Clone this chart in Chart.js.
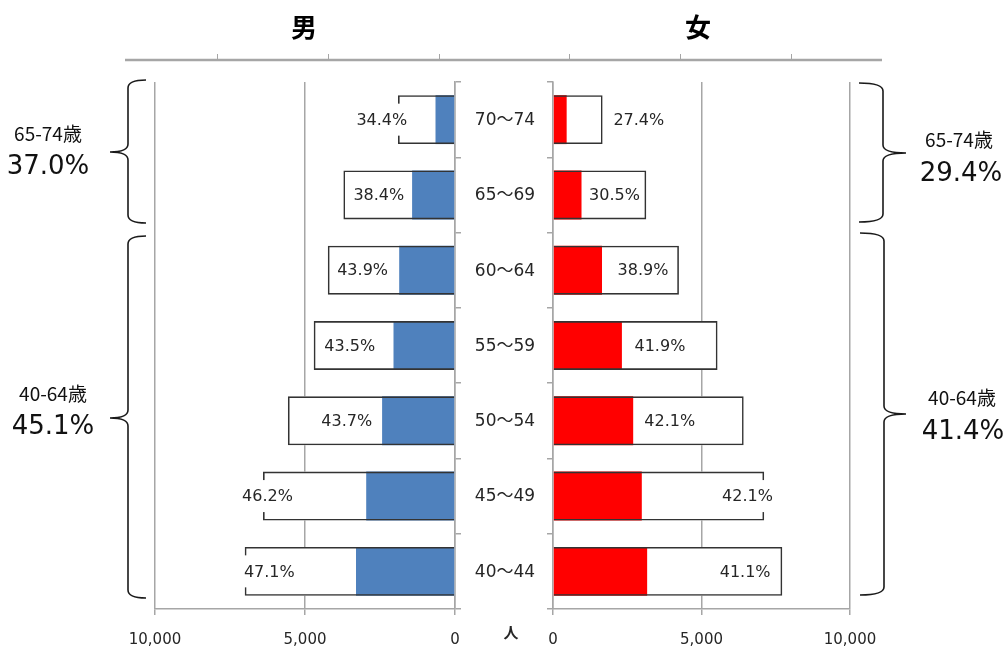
<!DOCTYPE html>
<html>
<head>
<meta charset="utf-8">
<script src="https://cdn.jsdelivr.net/npm/chart.js@4.4.1/dist/chart.umd.min.js"></script>
<style>
  html, body { margin:0; padding:0; background:#ffffff; overflow:hidden; }
  #wrap { position:relative; width:1008px; height:659px; overflow:hidden; }
  canvas { position:absolute; left:0; top:0; }
</style>
</head>
<body>
<div id="wrap">
  <canvas id="male" width="1008" height="659"></canvas>
  <canvas id="female" width="1008" height="659"></canvas>
</div>
<script>
// ---- data ----
const ageGroups = ['70～74', '65～69', '60～64', '55～59', '50～54', '45～49', '40～44'];
const maleTotal   = [1900, 3720, 4240, 4710, 5570, 6400, 7010];
const maleCount   = [650, 1430, 1860, 2050, 2430, 2960, 3300];
const malePct     = ['34.4%', '38.4%', '43.9%', '43.5%', '43.7%', '46.2%', '47.1%'];
const femaleTotal = [1670, 3140, 4240, 5540, 6420, 7110, 7720];
const femaleCount = [460, 960, 1650, 2320, 2700, 2990, 3170];
const femalePct   = ['27.4%', '30.5%', '38.9%', '41.9%', '42.1%', '42.1%', '41.1%'];
const axisTicks   = [0, 5000, 10000];
const groupNames  = ['65-74歳', '40-64歳'];
const maleGroupPct   = ['37.0%', '45.1%'];
const femaleGroupPct = ['29.4%', '41.4%'];
const sexTitles   = ['男', '女'];
const unitLabel   = '人';

// label anchor positions (in axis units)
const maleLabelAt   = [2440, 2540, 3080, 3510, 3610, 6250, 6190];
const femaleLabelAt = [2890, 2070, 3030, 3600, 3930, 6550, 6470];

Chart.defaults.devicePixelRatio = 1;
const NUM_FONT = "'DejaVu Sans', 'Noto Sans CJK JP', sans-serif";
const JP_FONT = "'Noto Sans CJK JP', 'DejaVu Sans', sans-serif";
const GRID = '#a6a6a6';
const INK = '#262626';

function fmt(v){ return v.toLocaleString('en-US'); }

function pctLabelPlugin(labelAt, texts){
  return {
    id: 'pctLabels',
    afterDatasetsDraw(chart){
      const ctx = chart.ctx, xs = chart.scales.x, ys = chart.scales.y;
      ctx.save();
      ctx.font = '16px ' + NUM_FONT;
      ctx.textAlign = 'center';
      ctx.textBaseline = 'middle';
      texts.forEach((t, i) => {
        const x = xs.getPixelForValue(labelAt[i]);
        const y = ys.getPixelForValue(i);
        const w = ctx.measureText(t).width + 6;
        ctx.fillStyle = '#ffffff';
        ctx.fillRect(x - w/2, y - 16, w, 32);
        ctx.fillStyle = INK;
        ctx.fillText(t, x, y + 1);
      });
      ctx.restore();
    }
  };
}

function makeDatasets(total, count, color){
  const common = { grouped:false, barPercentage:0.65, categoryPercentage:1 };
  return [
    Object.assign({ label:'total-bg', data: total, backgroundColor:'#ffffff', borderWidth:0, order:3 }, common),
    Object.assign({ label:'count', data: count, backgroundColor: color, borderWidth:0, order:2 }, common),
    Object.assign({ label:'total', data: total, backgroundColor:'rgba(0,0,0,0)', borderColor:'#333333', borderWidth:1.6, borderSkipped:'start', order:1 }, common)
  ];
}

function makeOptions(isMale){
  return {
    responsive:false,
    animation:false,
    indexAxis:'y',
    layout:{ padding: isMale
      ? { left:155, right:1008-455-6, top:82, bottom:-6 }
      : { left:553-6, right:1008-850, top:82, bottom:-6 } },
    plugins:{ legend:{display:false}, tooltip:{enabled:false} },
    scales:{
      x:{
        type:'linear', min:0, max:10000, reverse:isMale,
        afterBuildTicks(scale){ scale.ticks = axisTicks.map(v => ({value:v})); },
        ticks:{ callback:(v)=>fmt(v), font:{family:NUM_FONT, size:15}, color:INK, padding:16, maxRotation:0 },
        grid:{ color:GRID, lineWidth:1.5, tickLength:6 },
        border:{ color:GRID, width:1.5 }
      },
      y:{
        type:'category', labels: ageGroups, position: isMale ? 'right' : 'left',
        ticks:{ display:false },
        grid:{ drawOnChartArea:false, offset:true, tickLength:6, color:GRID, lineWidth:1.5 },
        border:{ color:GRID, width:1.5 }
      }
    }
  };
}

function brace(ctx, xv, xh, xt, y0, ym, y1){
  const r = 8;
  ctx.beginPath();
  ctx.moveTo(xh, y0);
  ctx.quadraticCurveTo(xv, y0, xv, y0 + r);
  ctx.lineTo(xv, ym - r);
  ctx.quadraticCurveTo(xv, ym, xt, ym);
  ctx.quadraticCurveTo(xv, ym, xv, ym + r);
  ctx.lineTo(xv, y1 - r);
  ctx.quadraticCurveTo(xv, y1, xh, y1);
  ctx.stroke();
}

const overlayPlugin = {
  id:'overlay',
  afterDraw(chart){
    const ctx = chart.ctx, ys = chart.scales.y;
    ctx.save();
    // top frame line
    ctx.strokeStyle = GRID; ctx.lineWidth = 2.5;
    ctx.beginPath(); ctx.moveTo(125, 60); ctx.lineTo(882, 60); ctx.stroke();
    ctx.lineWidth = 1;
    [217, 328, 439, 569, 680, 791].forEach(x => {
      ctx.beginPath(); ctx.moveTo(x + 0.5, 54); ctx.lineTo(x + 0.5, 60); ctx.stroke();
    });
    // titles
    ctx.fillStyle = '#000';
    ctx.textAlign = 'center'; ctx.textBaseline = 'middle';
    ctx.font = 'bold 26px ' + JP_FONT;
    ctx.fillText(sexTitles[0], 304, 27);
    ctx.fillText(sexTitles[1], 698, 27);
    // category labels
    ctx.font = '17px ' + NUM_FONT;
    ctx.fillStyle = INK;
    ageGroups.forEach((g, i) => ctx.fillText(g, 505, ys.getPixelForValue(i) + 1));
    // unit
    ctx.font = 'bold 15px ' + JP_FONT;
    ctx.fillText(unitLabel, 511, 632);
    // braces
    ctx.strokeStyle = '#1a1a1a'; ctx.lineWidth = 1.6;
    brace(ctx, 128, 146, 110, 80, 152, 223);
    brace(ctx, 128, 146, 110, 236, 418, 598);
    brace(ctx, 883, 859, 906, 83, 153, 222);
    brace(ctx, 884, 860, 906, 233, 414, 595);
    // group texts
    ctx.fillStyle = '#111';
    ctx.font = '19px ' + JP_FONT;
    ctx.fillText(groupNames[0], 48, 134);
    ctx.fillText(groupNames[1], 53, 394);
    ctx.fillText(groupNames[0], 959, 140);
    ctx.fillText(groupNames[1], 962, 398);
    ctx.font = '26px ' + NUM_FONT;
    ctx.fillText(maleGroupPct[0], 48, 167);
    ctx.fillText(maleGroupPct[1], 53, 427);
    ctx.fillText(femaleGroupPct[0], 961, 174);
    ctx.fillText(femaleGroupPct[1], 963, 432);
    ctx.restore();
  }
};

new Chart(document.getElementById('male'), {
  type:'bar',
  data:{ labels: ageGroups, datasets: makeDatasets(maleTotal, maleCount, '#4f81bd') },
  options: makeOptions(true),
  plugins:[pctLabelPlugin(maleLabelAt, malePct)]
});
new Chart(document.getElementById('female'), {
  type:'bar',
  data:{ labels: ageGroups, datasets: makeDatasets(femaleTotal, femaleCount, '#ff0000') },
  options: makeOptions(false),
  plugins:[pctLabelPlugin(femaleLabelAt, femalePct), overlayPlugin]
});
</script>
</body>
</html>
